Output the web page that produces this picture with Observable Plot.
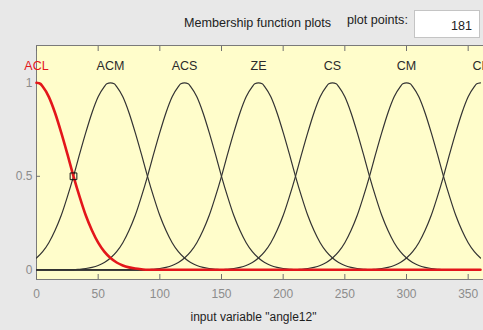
<!DOCTYPE html>
<html>
<head>
<meta charset="utf-8">
<script src="https://cdn.jsdelivr.net/npm/d3@7"></script>
<script src="https://cdn.jsdelivr.net/npm/@observablehq/plot@0.6"></script>
<style>
  html, body { margin: 0; padding: 0; background: #e8e8e8; overflow: hidden; }
  #wrap { position: relative; width: 483px; height: 330px; overflow: hidden; font-family: "Liberation Sans", Arial, sans-serif; }
  #wrap svg { max-width: none; position: absolute; left: 0; top: 0; }
  .hdr { position: absolute; white-space: nowrap; color: #222; font-size: 12.6px; line-height: 1; z-index: 2; }
  #title { left: 184px; top: 17px; }
  #ppLabel { left: 347px; top: 14px; }
  #ppBox { left: 414px; top: 10px; width: 66px; height: 28px; background: #fff; border: 1px solid #c4c4c4; box-sizing: border-box; }
  #ppValue { position: absolute; right: 7px; top: 9px; font-size: 12.6px; color: #222; }
</style>
</head>
<body>
<div id="wrap">
  <div class="hdr" id="title">Membership function plots</div>
  <div class="hdr" id="ppLabel">plot points:</div>
  <div class="hdr" id="ppBox"><span id="ppValue"></span></div>
</div>
<script>
// Membership functions of the input variable "angle12"
const mfNames   = ["ACL", "ACM", "ACS", "ZE", "CS", "CM", "CL"];
const mfCenters = [0, 60, 120, 180, 240, 300, 360];
const selectedMf = "ACL";

// Shared bell profile: membership grade vs. distance from the centre
const profileOffsets = [0, 3, 5, 10, 15, 20, 25, 30, 35, 40, 45, 50, 55, 60, 65, 70, 75, 80, 85, 90];
const profileGrades  = [1, 0.995, 0.98, 0.925, 0.84, 0.735, 0.62, 0.5, 0.39, 0.29, 0.21, 0.145, 0.097, 0.063, 0.039, 0.023, 0.013, 0.007, 0.003, 0];

// Axis ticks and range
const xTicks = [0, 50, 100, 150, 200, 250, 300, 350];
const yTicks = [0, 0.5, 1];
const xRange = [0, 360];
const plotPoints = 181;
const selectedPoint = [{x: 30, mu: 0.5}];
const axisLabel = 'input variable "angle12"';

document.getElementById("ppValue").textContent = plotPoints;

// Build each curve over the whole universe [0, 360], zero outside its support
const rows = [];
mfNames.forEach((name, i) => {
  const c = mfCenters[i];
  const pts = new Map();
  pts.set(xRange[0], 0);
  pts.set(xRange[1], 0);
  profileOffsets.forEach((d, k) => {
    for (const x of [c - d, c + d]) {
      if (x >= xRange[0] && x <= xRange[1]) pts.set(x, profileGrades[k]);
    }
  });
  [...pts.entries()].sort((a, b) => a[0] - b[0]).forEach(([x, mu]) => rows.push({name, x, mu}));
});
const others = rows.filter(d => d.name !== selectedMf);
const chosen = rows.filter(d => d.name === selectedMf);
const labels = mfNames.map((name, i) => ({name, x: mfCenters[i]}));

const font = '"Liberation Sans", Arial, sans-serif';

const chart = Plot.plot({
  width: 486,
  height: 330,
  marginLeft: 36,
  marginRight: 0,
  marginTop: 45,
  marginBottom: 51,
  style: {background: "transparent", fontFamily: font, fontSize: "12px", overflow: "hidden"},
  x: {domain: xRange, range: [36, 480]},
  y: {domain: [0, 1], range: [269.3, 82.3]},
  marks: [
    Plot.frame({fill: "#fffdcb", stroke: "#7a7a7a", strokeWidth: 1}),
    // inward tick marks
    Plot.axisX(xTicks, {anchor: "bottom", tickSize: -5, tickFormat: () => "", stroke: "#707070", label: null}),
    Plot.axisX(xTicks, {anchor: "top", tickSize: -5, tickFormat: () => "", stroke: "#707070", label: null}),
    Plot.axisY(yTicks, {anchor: "left", tickSize: -4, tickFormat: () => "", stroke: "#707070", label: null}),
    // tick labels
    Plot.axisX(xTicks, {anchor: "bottom", tickSize: 0, tickPadding: 10, fill: "#8c8c8c", fontSize: 12, label: null}),
    Plot.axisY(yTicks, {anchor: "left", tickSize: 0, tickPadding: 4, fill: "#8c8c8c", fontSize: 12, label: null, tickFormat: d => String(d)}),
    // curves
    Plot.line(others, {x: "x", y: "mu", z: "name", stroke: "#333", strokeWidth: 1.2, curve: "monotone-x"}),
    Plot.line(chosen, {x: "x", y: "mu", stroke: "#e3161b", strokeWidth: 2.6, curve: "monotone-x"}),
    Plot.dot(selectedPoint, {x: "x", y: "mu", symbol: "square", r: 3.8, stroke: "#111", strokeWidth: 1, fill: "none"}),
    // function names
    Plot.text(labels, {x: "x", frameAnchor: "top", dy: 15.5, text: "name", fontSize: 12.5,
      fill: d => d.name === selectedMf ? "#e3161b" : "#2a2a2a", fontWeight: d => d.name === selectedMf ? "bold" : "normal"}),
    // variable label
    Plot.text([axisLabel], {frameAnchor: "bottom", dy: 41, dx: -8, fontSize: 12, fill: "#1e1e1e"})
  ]
});
document.getElementById("wrap").appendChild(chart);
</script>
</body>
</html>
